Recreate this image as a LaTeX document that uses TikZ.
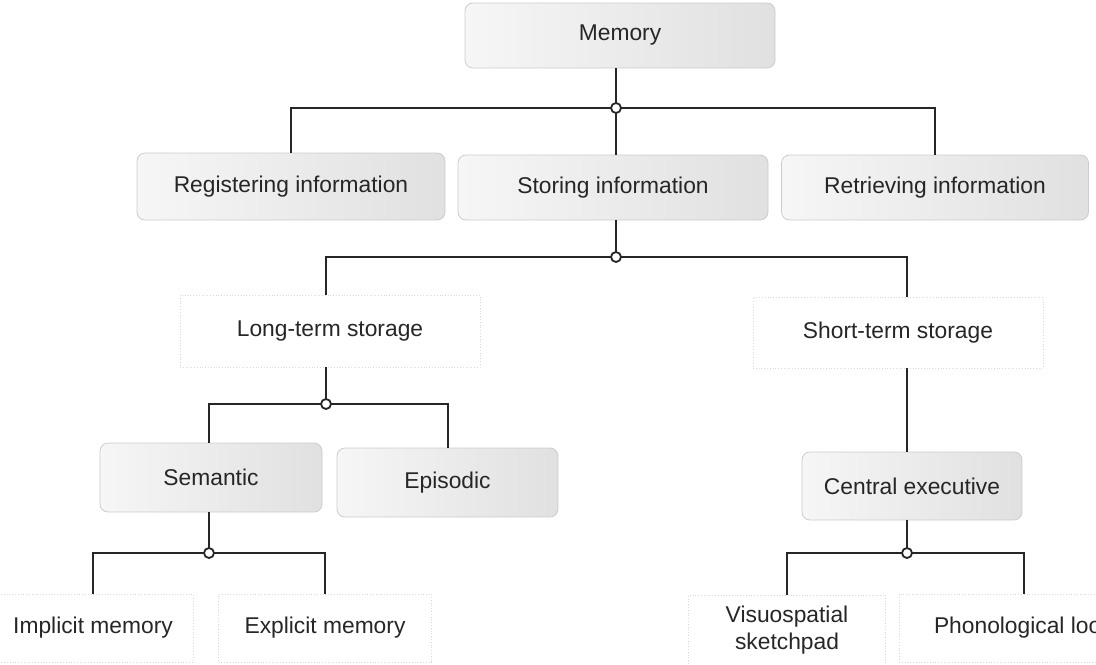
\documentclass[tikz,border=0pt]{standalone}
\usepackage{fontspec}
\setmainfont{Liberation Sans}
\begin{document}
\begin{tikzpicture}[x=0.5pt,y=-0.5pt,
  lbl/.style={text=black!85, font=\fontsize{11.4}{13.5}\selectfont, inner sep=0pt, align=center},
  fbox/.style={lbl, rounded corners=4pt, draw=gray!40, line width=0.4pt, left color=gray!7, right color=gray!24},
  tbox/.style={lbl, draw=gray!30, densely dotted, line width=0.4pt},
  conn/.style={line width=1pt, draw=black!85},
  junc/.style={circle, draw=black!85, fill=white, line width=0.9pt, inner sep=0pt, minimum size=5pt}]
\clip (0,0) rectangle (1096,664);
\useasboundingbox (0,0) rectangle (1096,664);
% boxes
\node[fbox, minimum width=155pt, minimum height=32.5pt] (mem) at (620,35.5) {Memory};
\node[fbox, minimum width=154pt, minimum height=33.5pt] (reg) at (291,186.5) {Registering information};
\node[fbox, minimum width=155pt, minimum height=32.5pt] (sto) at (613,187.5) {Storing information};
\node[fbox, minimum width=153.5pt, minimum height=32.5pt] (ret) at (935,187.5) {Retrieving information};
\node[tbox, minimum width=150pt, minimum height=36pt] (lt) at (330,331) {Long-term storage};
\node[tbox, minimum width=145pt, minimum height=35.5pt] (st) at (898,332.5) {Short-term storage};
\node[fbox, minimum width=111pt, minimum height=34.5pt] (sem) at (211,477.5) {Semantic};
\node[fbox, minimum width=110.5pt, minimum height=34.5pt] (epi) at (447.5,482.5) {Episodic};
\node[fbox, minimum width=110pt, minimum height=34pt] (ce) at (912,486) {Central executive};
\node[tbox, minimum width=100pt, minimum height=34pt] (imp) at (93,628) {Implicit memory};
\node[tbox, minimum width=106.5pt, minimum height=34pt] (exp) at (325,628) {Explicit memory};
\node[tbox, minimum width=98.5pt, minimum height=35pt] (vis) at (787,630) {Visuospatial\\sketchpad};
\node[tbox, minimum width=125pt, minimum height=34pt] (pho) at (1024,628) {Phonological loop};
% junctions
\coordinate (j1) at (616,108);
\coordinate (j2) at (616,257);
\coordinate (j3) at (326,404);
\coordinate (j4) at (907,553);
\coordinate (j5) at (209,553);
% connectors
\draw[conn] (mem.south -| j1) -- (j1);
\draw[conn] (j1) -| (reg.north);
\draw[conn] (j1) -| (ret.north);
\draw[conn] (j1) -- (j1 |- sto.north);
\draw[conn] (sto.south -| j2) -- (j2);
\draw[conn] (j2) -| (j3 |- lt.north);
\draw[conn] (j2) -| (j4 |- st.north);
\draw[conn] (lt.south -| j3) -- (j3);
\draw[conn] (j3) -| (j5 |- sem.north);
\draw[conn] (j3) -| (epi.north);
\draw[conn] (sem.south -| j5) -- (j5);
\draw[conn] (j5) -| (imp.north);
\draw[conn] (j5) -| (exp.north);
\draw[conn] (st.south -| j4) -- (ce.north -| j4);
\draw[conn] (ce.south -| j4) -- (j4);
\draw[conn] (j4) -| (vis.north);
\draw[conn] (j4) -| (pho.north);
% junction circles
\node[junc] (c1) at (j1) {};
\node[junc] (c2) at (j2) {};
\node[junc] (c3) at (j3) {};
\node[junc] (c4) at (j4) {};
\node[junc] (c5) at (j5) {};
\end{tikzpicture}
\end{document}
